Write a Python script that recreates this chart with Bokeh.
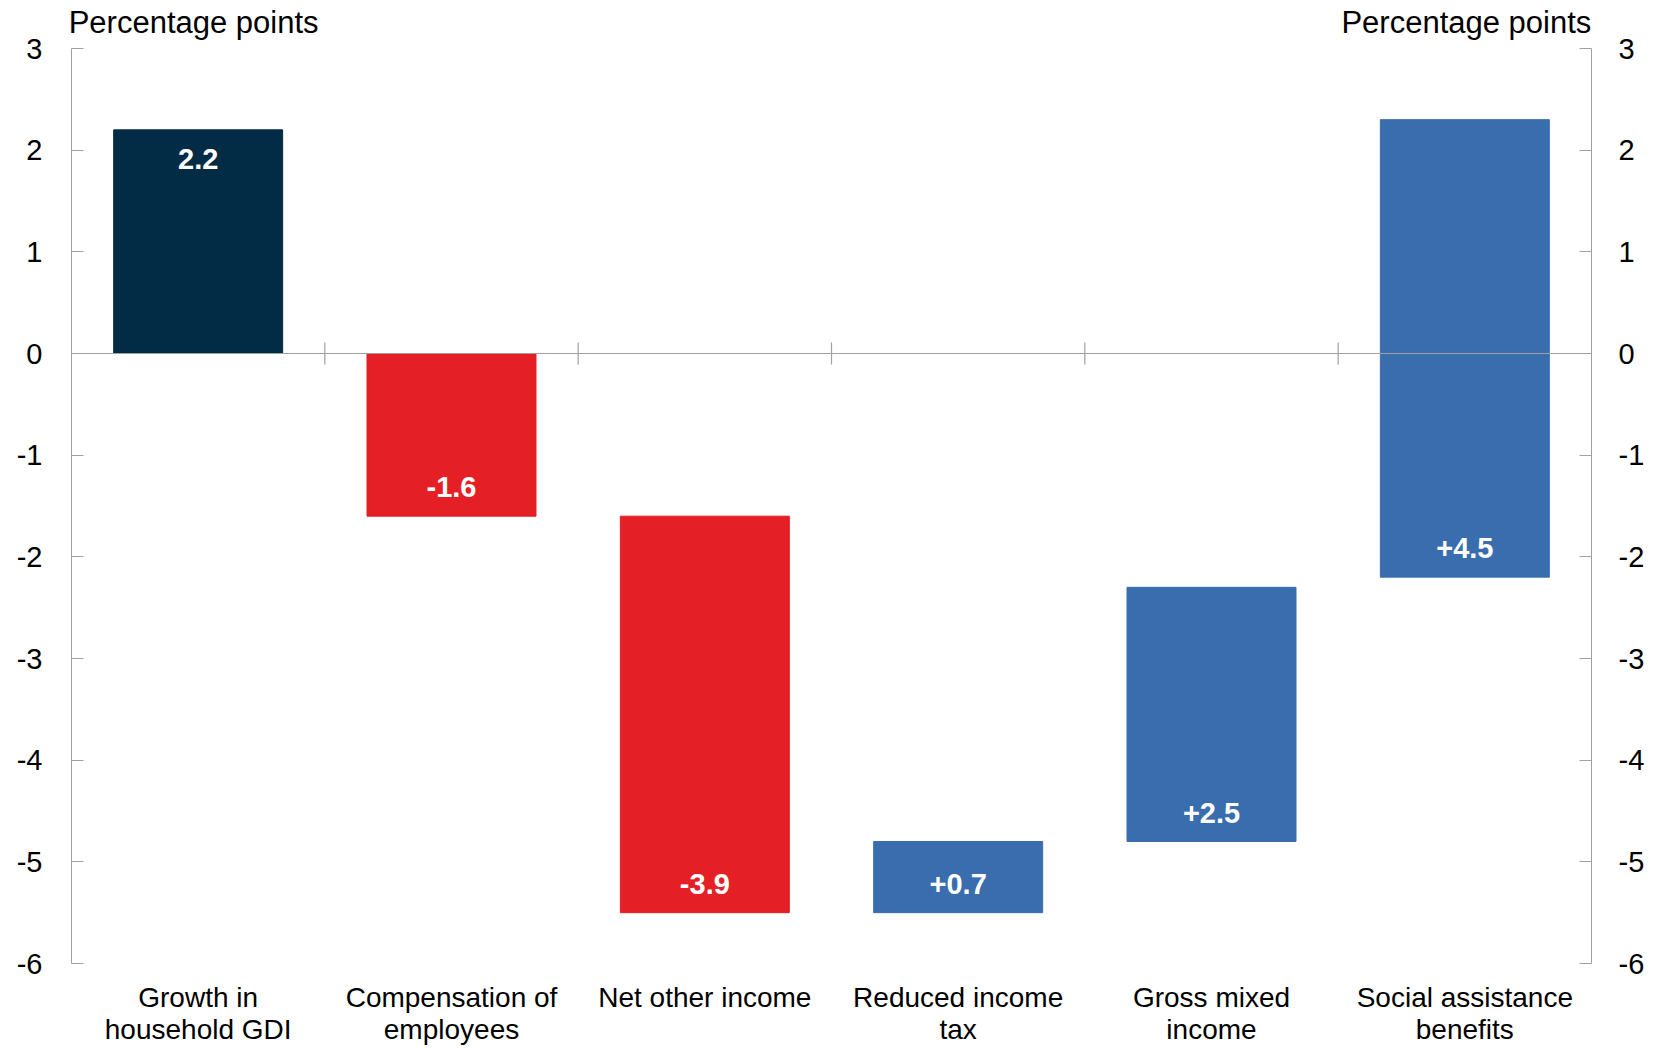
import math
from bokeh.plotting import figure
from bokeh.models import Range1d, LinearAxis, FixedTicker, Span, ColumnDataSource
from bokeh.core.properties import value
from bokeh.embed import file_html
from bokeh.resources import INLINE

# ---- data ----
categories = ["Growth in\nhousehold GDI", "Compensation of\nemployees", "Net other income",
              "Reduced income\ntax", "Gross mixed\nincome", "Social assistance\nbenefits"]
bar_bottom = [0.0, -1.6, -5.5, -5.5, -4.8, -2.2]
bar_top = [2.2, 0.0, -1.6, -4.8, -2.3, 2.3]
bar_labels = ["2.2", "-1.6", "-3.9", "+0.7", "+2.5", "+4.5"]
y_ticks = [-6, -5, -4, -3, -2, -1, 0, 1, 2, 3]
unit_label = "Percentage points"

FONT = "Liberation Sans"
NAVY = "#022B46"
RED = "#E41F26"
BLUE = "#3A6DAD"
GREY = "#A0A0A0"

n = len(categories)
centers = [i + 0.5 for i in range(n)]
colors = []
for i, lbl in enumerate(bar_labels):
    if i == 0:
        colors.append(NAVY)
    elif lbl.startswith("-"):
        colors.append(RED)
    else:
        colors.append(BLUE)

# label anchor: inside the top end of the total bar, inside the lower end of the others
label_y = [bar_top[0]] + bar_bottom[1:]
label_off = [29] + [-29] * (n - 1)

p = figure(width=1659, height=1048, x_range=Range1d(0, n), y_range=Range1d(-6, 3),
           output_backend="svg", toolbar_location=None,
           x_axis_location=None, y_axis_location=None,
           min_border_left=71, min_border_right=68, min_border_top=48, min_border_bottom=82)
p.outline_line_color = None
p.xgrid.grid_line_color = None
p.ygrid.grid_line_color = None
p.background_fill_color = "white"
p.border_fill_color = "white"

bars = ColumnDataSource(dict(x=centers, top=bar_top, bottom=bar_bottom, color=colors,
                             label=bar_labels, ly=label_y, loff=label_off))
p.vbar(x="x", width=0.667, top="top", bottom="bottom", fill_color="color",
       line_color="color", source=bars)

# zero line with category-boundary ticks
p.add_layout(Span(location=0, dimension="width", line_color=GREY, line_width=1.2))
p.scatter(x=list(range(1, n)), y=[0] * (n - 1), marker="dash", angle=math.pi / 2,
          size=22, line_color=GREY, line_width=1.2)

# bar value labels
p.text(x="x", y="ly", text="label", y_offset="loff", source=bars,
       text_color="white", text_font=value(FONT), text_font_style="bold",
       text_font_size="29px", text_align="center", text_baseline="middle")

# y axes
for side, standoff in (("left", 29), ("right", 27)):
    ax = LinearAxis(ticker=FixedTicker(ticks=y_ticks))
    ax.major_label_overrides = {t: str(t) for t in y_ticks}
    ax.axis_line_color = GREY
    ax.major_tick_line_color = GREY
    ax.major_tick_in = 12
    ax.major_tick_out = 0
    ax.minor_tick_line_color = None
    ax.major_label_standoff = standoff
    ax.major_label_text_font = FONT
    ax.major_label_text_font_size = "29px"
    ax.major_label_text_color = "black"
    p.add_layout(ax, side)

# category labels (bottom axis)
bx = LinearAxis(ticker=FixedTicker(ticks=centers))
bx.major_label_overrides = {c: t for c, t in zip(centers, categories)}
bx.axis_line_color = None
bx.major_tick_line_color = None
bx.minor_tick_line_color = None
bx.major_label_standoff = 12
bx.major_label_text_font = FONT
bx.major_label_text_font_size = "28px"
bx.major_label_text_line_height = 1.05
bx.major_label_text_color = "black"
p.add_layout(bx, "below")

# unit labels (top axis)
unit_pos = [0.482, 5.506]
tx = LinearAxis(ticker=FixedTicker(ticks=unit_pos))
tx.major_label_overrides = {u: unit_label for u in unit_pos}
tx.axis_line_color = None
tx.major_tick_line_color = None
tx.minor_tick_line_color = None
tx.major_label_standoff = 3
tx.major_label_text_font = FONT
tx.major_label_text_font_size = "31px"
tx.major_label_text_color = "black"
p.add_layout(tx, "above")

open("out.html", "w").write(file_html(p, INLINE))
